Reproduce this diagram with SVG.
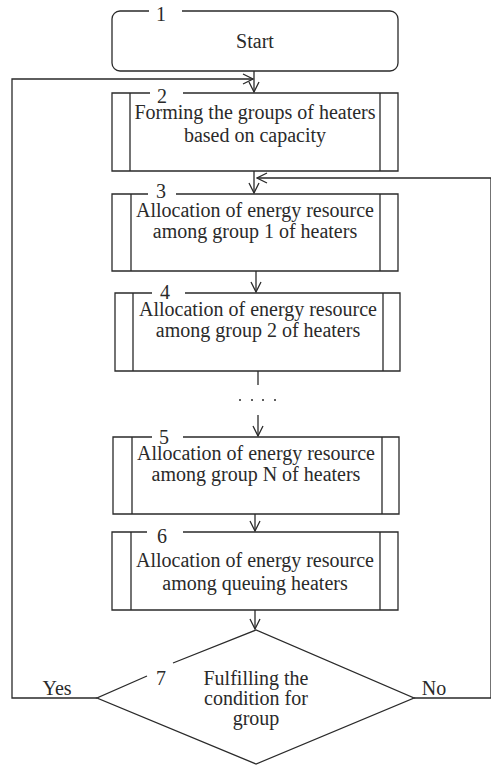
<svg xmlns="http://www.w3.org/2000/svg" width="491" height="765" viewBox="0 0 491 765">
<style>
.s{fill:none;stroke:#2a2a2a;stroke-width:1.3}
.c{text-anchor:middle}
</style>
<defs>
<marker id="ar" viewBox="0 0 12 12" refX="11" refY="6" markerWidth="12" markerHeight="12" markerUnits="userSpaceOnUse" orient="auto">
<polyline points="1,1 11,6 1,11" fill="none" stroke="#2a2a2a" stroke-width="1.3"/>
</marker>
</defs>
<rect width="491" height="765" fill="#fff"/>
<g id="connectors" class="s">
<line x1="254" y1="71" x2="254" y2="92" marker-end="url(#ar)"/>
<polyline points="97,698 12,698 12,79 253,79" marker-end="url(#ar)"/>
<line x1="254" y1="171" x2="254" y2="193" marker-end="url(#ar)"/>
<polyline points="414,698 491,698 491,178 257,178" marker-end="url(#ar)"/>
<line x1="256" y1="271" x2="256" y2="292" marker-end="url(#ar)"/>
<line x1="258" y1="371" x2="258" y2="385"/>
<line x1="258" y1="415" x2="258" y2="436" marker-end="url(#ar)"/>
<line x1="255" y1="514" x2="255" y2="531" marker-end="url(#ar)"/>
<line x1="255" y1="610" x2="255" y2="629" marker-end="url(#ar)"/>
<g fill="#2a2a2a" stroke="none">
<circle cx="240" cy="400" r="1"/><circle cx="252" cy="400" r="1"/><circle cx="263" cy="400" r="1"/><circle cx="275" cy="400" r="1"/>
</g>
</g>
<g font-family="Liberation Serif, DejaVu Serif, serif" font-size="20" fill="#2a2a2a">
<g id="n1">
<path class="s" d="M182,11 H390 A8,8 0 0 1 398,19 V63 A8,8 0 0 1 390,71 H120 A8,8 0 0 1 112,63 V19 A8,8 0 0 1 120,11 H149"/>
<text x="161" y="21" class="c">1</text>
<text x="255" y="48" class="c">Start</text>
</g>
<g id="n2">
<path class="s" d="M183,93 H398 V171 H112 V93 H150 M130,93 V171 M380,93 V171"/>
<text x="162" y="103" class="c">2</text>
<text x="255" y="119" class="c">Forming the groups of heaters</text>
<text x="255" y="142" class="c">based on capacity</text>
</g>
<g id="n3">
<path class="s" d="M176,194 H398 V271 H112 V194 H148 M131,194 V271 M380,194 V271"/>
<text x="161" y="198" class="c">3</text>
<text x="255" y="217" class="c">Allocation of energy resource</text>
<text x="255" y="238" class="c">among group 1 of heaters</text>
</g>
<g id="n4">
<path class="s" d="M185,293 H400 V371 H115 V293 H152 M133,293 V371 M383,293 V371"/>
<text x="165" y="299" class="c">4</text>
<text x="258" y="316" class="c">Allocation of energy resource</text>
<text x="258" y="337" class="c">among group 2 of heaters</text>
</g>
<g id="n5">
<path class="s" d="M183,437 H399 V514 H113 V437 H152 M132,437 V514 M382,437 V514"/>
<text x="164" y="444" class="c">5</text>
<text x="256" y="460" class="c">Allocation of energy resource</text>
<text x="256" y="481" class="c">among group N of heaters</text>
</g>
<g id="n6">
<path class="s" d="M183,532 H398 V610 H112 V532 H147 M131,532 V610 M380,532 V610"/>
<text x="162" y="543" class="c">6</text>
<text x="255" y="567" class="c">Allocation of energy resource</text>
<text x="255" y="590" class="c">among queuing heaters</text>
</g>
<g id="n7">
<path class="s" d="M173,663 L256,630 L414,698 L256,764 L97,698 L147,676"/>
<text x="161" y="685" class="c">7</text>
<text x="256" y="685" class="c">Fulfilling the</text>
<text x="256" y="705" class="c">condition for</text>
<text x="256" y="725" class="c">group</text>
</g>
<g id="labels">
<text x="57" y="695" class="c">Yes</text>
<text x="434" y="695" class="c">No</text>
</g>
</g>
</svg>
